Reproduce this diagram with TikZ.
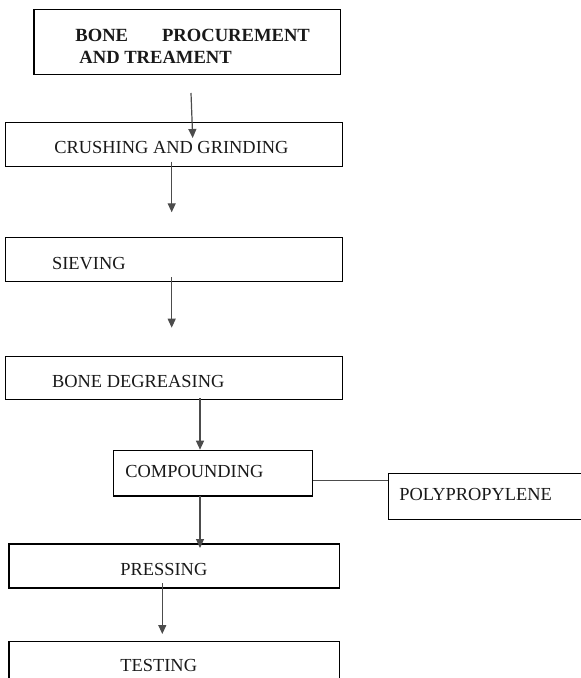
\documentclass[tikz,border=0pt]{standalone}
\usepackage{fontspec}
\setmainfont{Liberation Serif}
\usetikzlibrary{arrows.meta}
\tikzset{
  stagebox/.style={draw=black, line width=0.6pt, anchor=north west, inner sep=0pt},
  stagetext/.style={anchor=base west, inner sep=0pt, text=black!90, font=\fontsize{9.2}{10.8}\selectfont},
  flow/.style={draw=black!70, line width=0.6pt, -{Triangle[length=4.5pt,width=4pt]}, shorten >=0pt}
}
\begin{document}
\begin{tikzpicture}[x=0.5pt, y=-0.5pt]
  \useasboundingbox (0,0) rectangle (581,678);
  % boxes
  \node[stagebox, minimum width=153.3pt, minimum height=32.3pt] (bone) at (33.3,9.3) {};
  \node[stagebox, minimum width=168.3pt, minimum height=22pt] (crushing) at (5,121.7) {};
  \node[stagebox, minimum width=168.3pt, minimum height=21.8pt] (sieving) at (5,237.3) {};
  \node[stagebox, minimum width=168.3pt, minimum height=21.7pt] (degreasing) at (5,355.7) {};
  \node[stagebox, minimum width=99.5pt, minimum height=22.8pt] (compounding) at (112.7,449.7) {};
  \node[stagebox, minimum width=110pt, minimum height=23pt] (poly) at (387.7,472.7) {};
  \node[stagebox, minimum width=165.3pt, minimum height=22pt] (pressing) at (8.3,543.3) {};
  \node[stagebox, minimum width=165.3pt, minimum height=30pt] (testing) at (8.3,640.7) {};
  % labels
  \node[stagetext, align=left, font=\fontsize{9.3}{10.8}\selectfont\bfseries] (bonetxt) at (75,63.3)
    {BONE\hspace{17pt}PROCUREMENT\\\hspace{2pt}AND TREAMENT};
  \node[stagetext] (crushingtxt) at (54,153.3) {CRUSHING AND GRINDING};
  \node[stagetext] (sievingtxt) at (51.7,269.3) {SIEVING};
  \node[stagetext] (degreasingtxt) at (51.7,387.3) {BONE DEGREASING};
  \node[stagetext] (compoundingtxt) at (125,477) {COMPOUNDING};
  \node[stagetext] (polytxt) at (399,500.7) {POLYPROPYLENE};
  \node[stagetext] (pressingtxt) at (120,575) {PRESSING};
  \node[stagetext] (testingtxt) at (120,671.7) {TESTING};
  % arrow ends
  \coordinate (a1s) at (191,93);
  \coordinate (a1e) at (192.7,138);
  \coordinate (a2s) at (171.7,161.7);
  \coordinate (a2e) at (171.7,212.3);
  \coordinate (a3s) at (171.7,277.3);
  \coordinate (a3e) at (171.7,327.7);
  \coordinate (a4s) at (200,398);
  \coordinate (a4e) at (200,449.7);
  \coordinate (a5s) at (200,495.5);
  \coordinate (a5e) at (200,548);
  \coordinate (a6s) at (162.3,583);
  \coordinate (a6e) at (162.3,634);
  \coordinate (mix) at (0,480.7);
  % connectors
  \draw[flow] (a1s) -- (a1e);
  \draw[flow] (a2s) -- (a2e);
  \draw[flow] (a3s) -- (a3e);
  \draw[flow] (a4s) -- (a4e);
  \draw[flow] (a5s) -- (a5e);
  \draw[flow] (a6s) -- (a6e);
  \draw[draw=black!70, line width=0.6pt] (compounding.east |- mix) -- (poly.west |- mix);
\end{tikzpicture}
\end{document}
